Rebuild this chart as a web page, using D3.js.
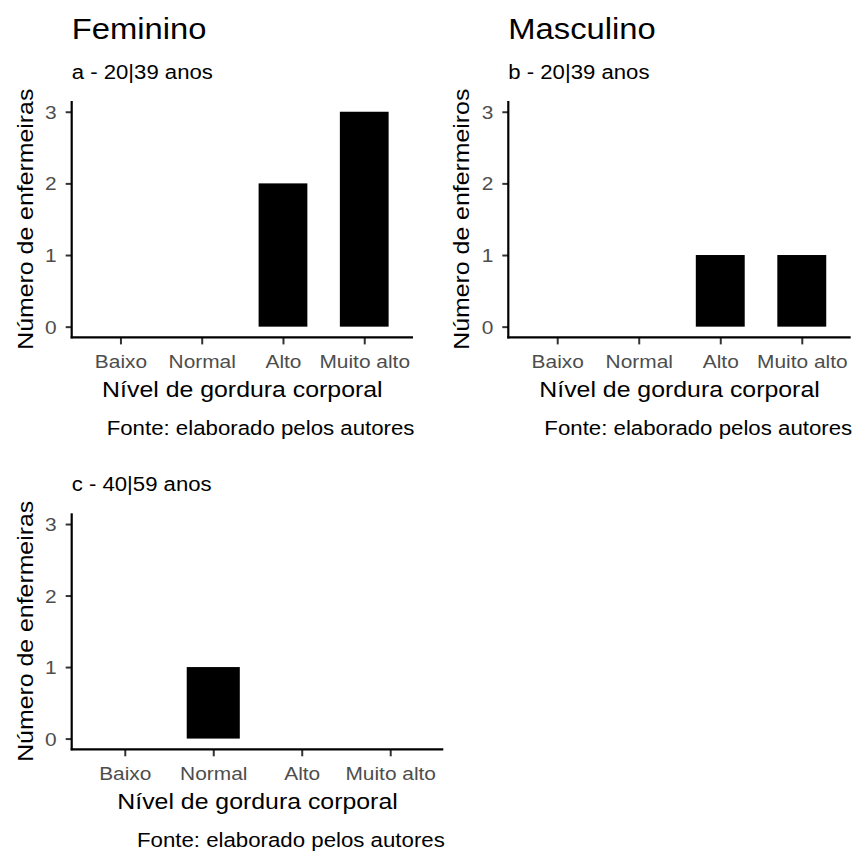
<!DOCTYPE html>
<html>
<head>
<meta charset="utf-8">
<script src="https://cdn.jsdelivr.net/npm/d3@7"></script>
<style>
  html, body { margin: 0; padding: 0; background: #ffffff; }
  svg text { font-family: "Liberation Sans", Arial, Helvetica, sans-serif; }
</style>
</head>
<body>
<svg id="chart" width="853" height="852"></svg>
<script>
// Body-fat level categories and nurse counts per sex / age group
const categories = ["Baixo", "Normal", "Alto", "Muito alto"];
const femininas20a39 = [0, 0, 2, 3];
const masculinos20a39 = [0, 0, 1, 1];
const femininas40a59 = [0, 1, 0, 0];
const yTicks = [0, 1, 2, 3];
const yMax = 3;

const xTitle = "Nível de gordura corporal";
const caption = "Fonte: elaborado pelos autores";

// text is drawn slightly wide
const SX = 1.13;

const svg = d3.select("#chart");
svg.append("rect").attr("width", 853).attr("height", 852).attr("fill", "#ffffff");

function placeText(sel, x, y, rotate) {
  sel.attr("x", 0).attr("y", 0).attr("dy", null)
    .attr("transform", `translate(${x},${y})${rotate ? ` rotate(${rotate})` : ""} scale(${SX},1)`);
  return sel;
}

function drawPanel(p) {
  const g = svg.append("g");

  const x = d3.scalePoint()
    .domain(categories)
    .range([p.left, p.right])
    .padding(0.6);
  const barW = x.step() * 0.6;

  // continuous axis with 5% expansion on both sides
  const y = d3.scaleLinear()
    .domain([-0.05 * yMax, yMax * 1.05])
    .range([p.bottom, p.top]);

  // bars
  g.selectAll("rect.bar")
    .data(categories.map((c, i) => ({ c, v: p.values[i] })))
    .join("rect")
    .attr("class", "bar")
    .attr("x", d => x(d.c) - barW / 2)
    .attr("width", barW)
    .attr("y", d => y(d.v))
    .attr("height", d => y(0) - y(d.v))
    .attr("fill", "#000000");

  // y axis
  const yAxis = d3.axisLeft(y).tickValues(yTicks).tickSize(6).tickPadding(8)
    .tickFormat(d3.format("d"));
  const gy = g.append("g").attr("transform", `translate(${p.left},0)`).call(yAxis);
  gy.select(".domain").remove();
  gy.selectAll(".tick line").attr("stroke", "#333333").attr("stroke-width", 2);
  gy.selectAll(".tick text")
    .attr("fill", "#4d4d4d")
    .attr("font-size", 18.5)
    .attr("text-anchor", "end")
    .each(function () { placeText(d3.select(this), -15, 6.5); });

  // x axis
  const xAxis = d3.axisBottom(x).tickSize(7).tickPadding(12);
  const gx = g.append("g").attr("transform", `translate(0,${p.bottom})`).call(xAxis);
  gx.select(".domain").remove();
  gx.selectAll(".tick line").attr("stroke", "#333333").attr("stroke-width", 2);
  gx.selectAll(".tick text")
    .attr("fill", "#4d4d4d")
    .attr("font-size", 18.5)
    .attr("text-anchor", "middle")
    .each(function () { placeText(d3.select(this), 0, 30.3); });

  // axis lines
  g.append("line")
    .attr("x1", p.left).attr("x2", p.left)
    .attr("y1", p.top).attr("y2", p.bottom + 1)
    .attr("stroke", "#000").attr("stroke-width", 2.2);
  g.append("line")
    .attr("x1", p.left - 1).attr("x2", p.right)
    .attr("y1", p.bottom).attr("y2", p.bottom)
    .attr("stroke", "#000").attr("stroke-width", 2.2);

  // axis titles
  placeText(g.append("text"), (p.left + p.right) / 2, p.bottom + 60)
    .attr("text-anchor", "middle")
    .attr("font-size", 22)
    .attr("fill", "#000")
    .text(xTitle);

  placeText(g.append("text"), p.left - 39, (p.top + p.bottom) / 2, -90)
    .attr("text-anchor", "middle")
    .attr("font-size", 22)
    .attr("fill", "#000")
    .text(p.yTitle);

  // title and subtitle
  if (p.title) {
    placeText(g.append("text"), p.left, 39.3)
      .attr("font-size", 29)
      .attr("fill", "#000")
      .text(p.title);
  }
  placeText(g.append("text"), p.left, p.top - 22.3)
    .attr("font-size", 19.6)
    .attr("fill", "#000")
    .text(p.subtitle);

  // caption
  placeText(g.append("text"), p.right + 1.5, p.bottom + 97.5)
    .attr("text-anchor", "end")
    .attr("font-size", 19.7)
    .attr("fill", "#000")
    .text(caption);
}

drawPanel({
  left: 71.7, right: 413, top: 101, bottom: 337.4,
  values: femininas20a39,
  title: "Feminino", subtitle: "a - 20|39 anos",
  yTitle: "Número de enfermeiras"
});
drawPanel({
  left: 508.3, right: 850.7, top: 101, bottom: 337.4,
  values: masculinos20a39,
  title: "Masculino", subtitle: "b - 20|39 anos",
  yTitle: "Número de enfermeiros"
});
drawPanel({
  left: 71.7, right: 443.3, top: 513.3, bottom: 749.3,
  values: femininas40a59,
  title: null, subtitle: "c - 40|59 anos",
  yTitle: "Número de enfermeiras"
});
</script>
</body>
</html>
